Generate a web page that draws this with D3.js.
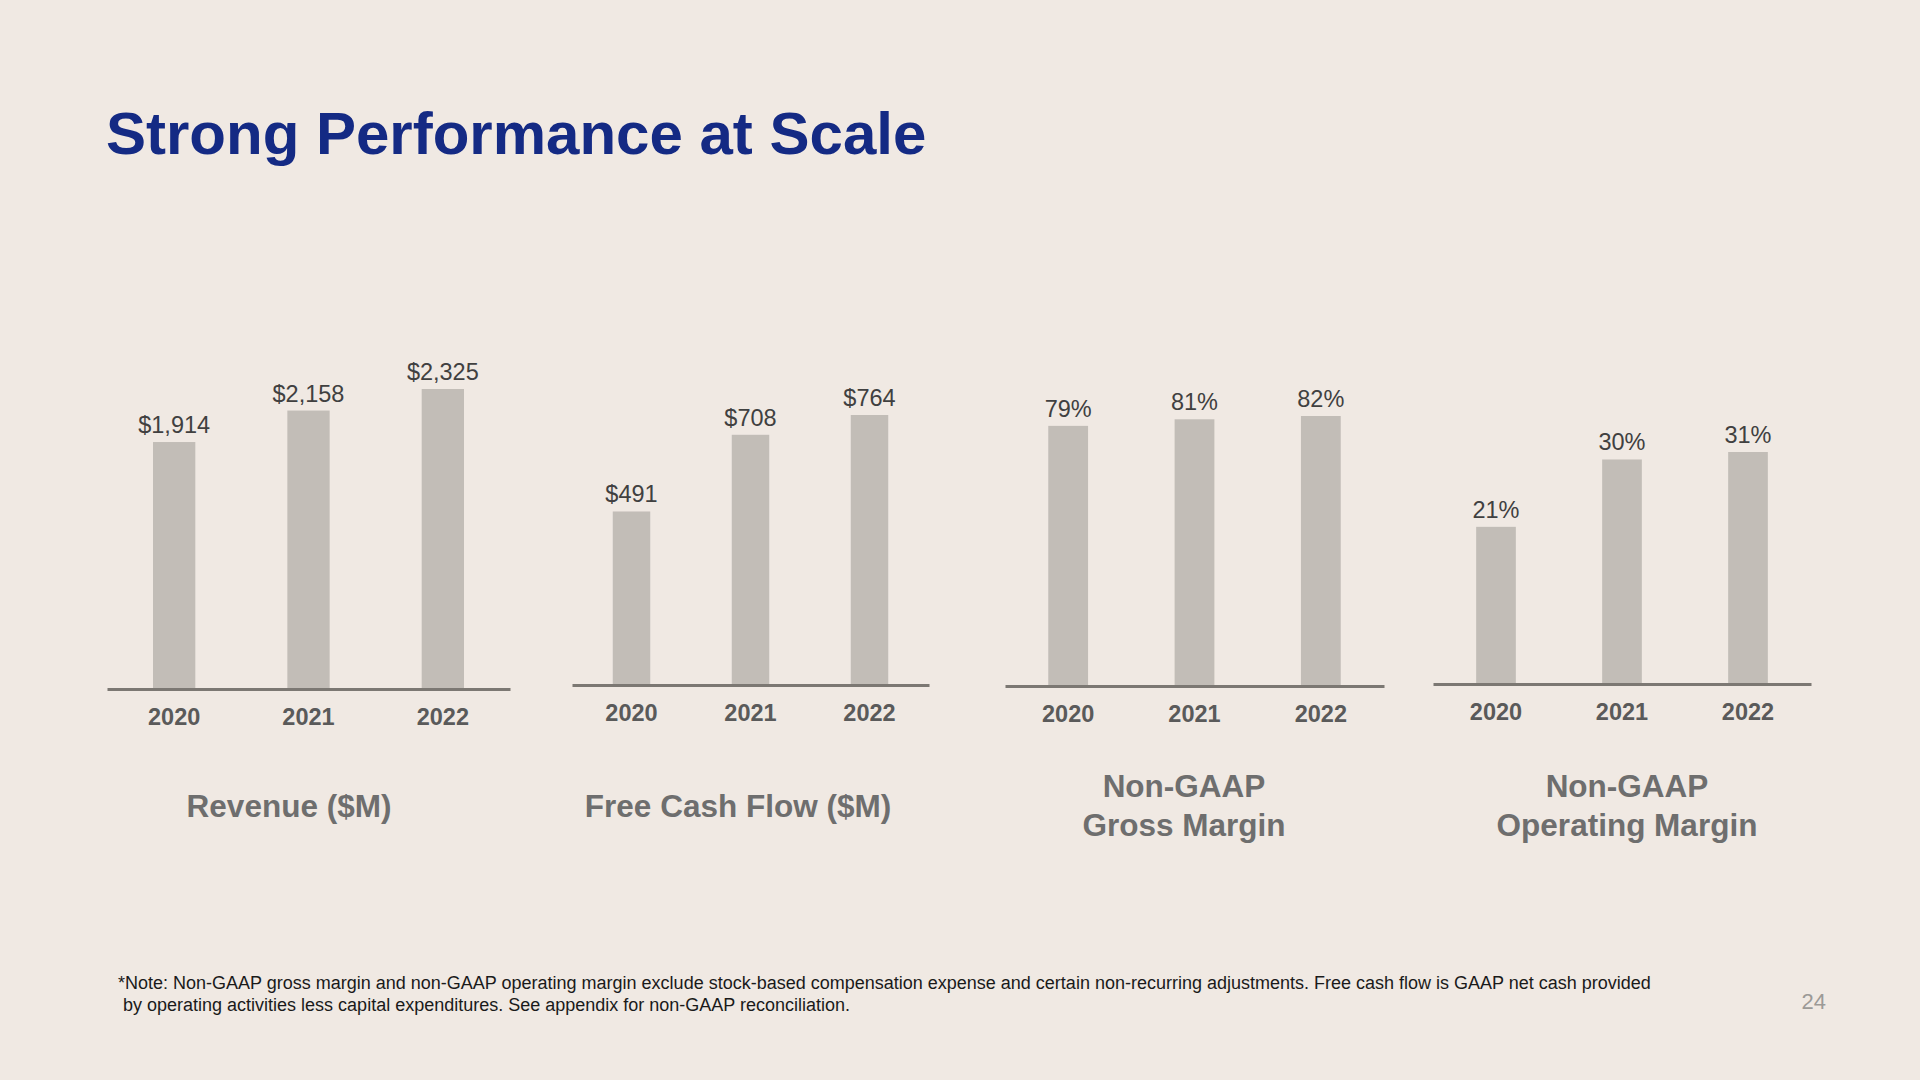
<!DOCTYPE html>
<html>
<head>
<meta charset="utf-8">
<script src="https://cdn.jsdelivr.net/npm/d3@7"></script>
<style>
  html, body { margin: 0; padding: 0; background: #f0e9e3; }
  svg { display: block; font-family: "Liberation Sans", Arial, Helvetica, sans-serif; }
</style>
</head>
<body>
<svg id="slide" width="1920" height="1080"></svg>
<script>
// --- data ---
const years = ["2020", "2021", "2022"];
const revenue = [1914, 2158, 2325];
const freeCashFlow = [491, 708, 764];
const grossMargin = [79, 81, 82];
const operatingMargin = [21, 30, 31];

const revenueTitle = ["Revenue ($M)"];
const fcfTitle = ["Free Cash Flow ($M)"];
const grossTitle = ["Non-GAAP", "Gross Margin"];
const opTitle = ["Non-GAAP", "Operating Margin"];

const dollars = v => "$" + d3.format(",")(v);
const percent = v => v + "%";

// --- panel layout (pixels) ---
const panels = [
  { values: revenue,         title: revenueTitle, fmt: dollars, x0: 107,  x1: 510,  base: 689, maxH: 300, titleX: 289 },
  { values: freeCashFlow,    title: fcfTitle,     fmt: dollars, x0: 572,  x1: 929,  base: 685, maxH: 270, titleX: 738 },
  { values: grossMargin,     title: grossTitle,   fmt: percent, x0: 1005, x1: 1384, base: 686, maxH: 270, titleX: 1184 },
  { values: operatingMargin, title: opTitle,      fmt: percent, x0: 1433, x1: 1811, base: 684, maxH: 232, titleX: 1627 }
];

const svg = d3.select("#slide");

svg.append("rect").attr("width", 1920).attr("height", 1080).attr("fill", "#f0e9e3");

// title
svg.append("text")
  .attr("x", 106).attr("y", 154)
  .attr("font-size", 60).attr("font-weight", "bold")
  .attr("fill", "#142a84")
  .text("Strong Performance at Scale");

// --- panels ---
panels.forEach(p => {
  const g = svg.append("g");
  const x = d3.scaleBand().domain(years).range([p.x0, p.x1]).paddingInner(0.685).paddingOuter(0.3425);
  const y = d3.scaleLinear().domain([0, d3.max(p.values)]).range([p.base, p.base - p.maxH]);
  const rows = years.map((yr, i) => ({ yr, v: p.values[i] }));

  g.selectAll("rect.bar").data(rows).enter().append("rect")
    .attr("class", "bar")
    .attr("x", d => x(d.yr))
    .attr("width", x.bandwidth())
    .attr("y", d => y(d.v))
    .attr("height", d => y(0) - y(d.v))
    .attr("fill", "#c2bdb7");

  g.selectAll("text.val").data(rows).enter().append("text")
    .attr("class", "val")
    .attr("x", d => x(d.yr) + x.bandwidth() / 2)
    .attr("y", d => y(d.v) - 9)
    .attr("text-anchor", "middle")
    .attr("font-size", 23.5)
    .attr("fill", "#404040")
    .text(d => p.fmt(d.v));

  // baseline axis
  const axis = d3.axisBottom(x).tickSize(0).tickPadding(0);
  const ax = g.append("g").attr("transform", `translate(0,${p.base})`).call(axis);
  ax.select(".domain").attr("stroke", "#7c7873").attr("stroke-width", 3.2);
  ax.selectAll(".tick text")
    .attr("y", 36).attr("dy", 0)
    .attr("font-family", "Liberation Sans, Arial, sans-serif")
    .attr("font-size", 23.5).attr("font-weight", "bold")
    .attr("fill", "#5a5a5a");

  // category title
  const lineH = 38.5;
  const top = 816.5 - (p.title.length - 1) * lineH / 2;
  g.selectAll("text.cat").data(p.title).enter().append("text")
    .attr("class", "cat")
    .attr("x", p.titleX)
    .attr("y", (d, i) => top + i * lineH)
    .attr("text-anchor", "middle")
    .attr("font-size", 31.5).attr("font-weight", "bold")
    .attr("fill", "#6e6e6e")
    .text(d => d);
});

// footnote
const note = [
  "*Note: Non-GAAP gross margin and non-GAAP operating margin exclude stock-based compensation expense and certain non-recurring adjustments. Free cash flow is GAAP net cash provided",
  " by operating activities less capital expenditures. See appendix for non-GAAP reconciliation."
];
svg.selectAll("text.note").data(note).enter().append("text")
  .attr("class", "note")
  .attr("x", 118)
  .attr("y", (d, i) => 989 + i * 22)
  .attr("font-size", 18)
  .attr("fill", "#1a1a1a")
  .attr("xml:space", "preserve")
  .style("white-space", "pre")
  .text(d => d);

// page number
svg.append("text")
  .attr("x", 1826).attr("y", 1009)
  .attr("text-anchor", "end")
  .attr("font-size", 22)
  .attr("fill", "#9c9a97")
  .text("24");
</script>
</body>
</html>
